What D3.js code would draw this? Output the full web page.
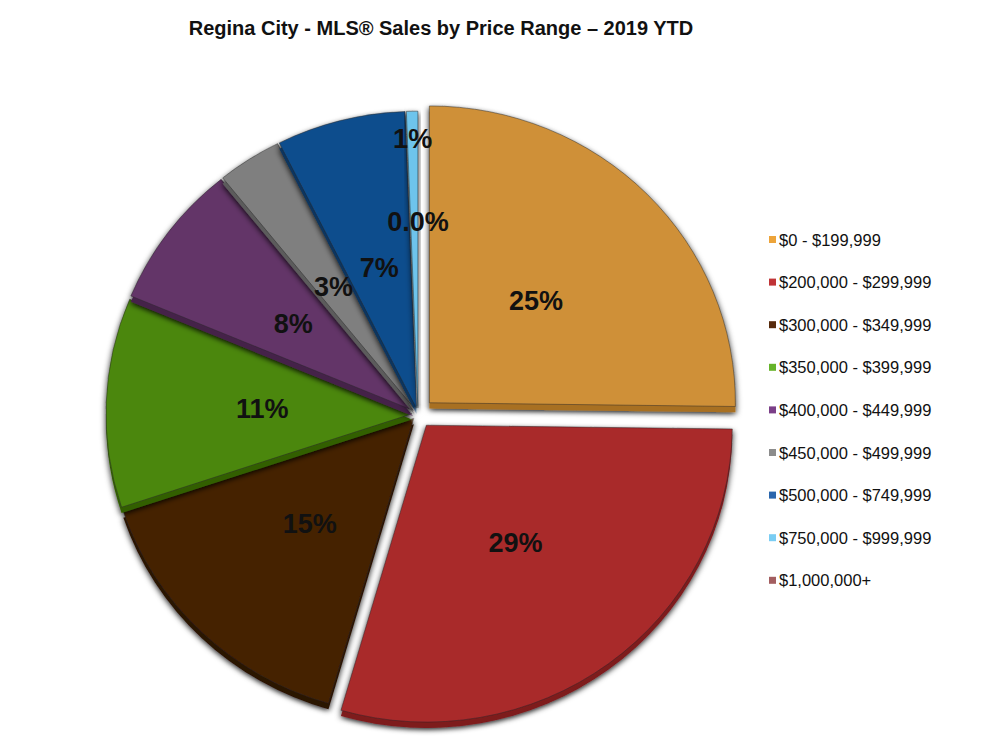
<!DOCTYPE html>
<html>
<head>
<meta charset="utf-8">
<script src="https://cdnjs.cloudflare.com/ajax/libs/d3/7.8.5/d3.min.js"></script>
<style>
  html, body { margin: 0; padding: 0; background: #fff; }
  svg { display: block; }
</style>
</head>
<body>
<script>
// ---- data ----
const categories = ["$0 - $199,999", "$200,000 - $299,999", "$300,000 - $349,999", "$350,000 - $399,999",
  "$400,000 - $449,999", "$450,000 - $499,999", "$500,000 - $749,999", "$750,000 - $999,999", "$1,000,000+"];
const values = [25.2, 29.3, 15.4, 11.4, 7.9, 3.4, 6.8, 0.6, 0.0];
const labels = ["25%", "29%", "15%", "11%", "8%", "3%", "7%", "1%", "0.0%"];
const faceColors = ["#CF9038", "#A9292C", "#452003", "#4B870B", "#633468", "#7F7F7F", "#104E8D", "#6EC4EC", "#9E5B5B"];
const depthColors = ["#A86F22", "#7E1A1D", "#2A1200", "#335E05", "#45224A", "#5C5C5C", "#0A355F", "#4A9CC2", "#7A4040"];
const legendColors = ["#EDA43A", "#C03437", "#572A0B", "#66B42A", "#7B3F88", "#8C8C8C", "#2A66AD", "#7ACDF3", "#A35E60"];
const explode = [16, 14, 6, 6, 6, 6, 6, 6, 6];
const title = "Regina City - MLS\u00AE Sales by Price Range \u2013 2019 YTD";

// ---- layout ----
const W = 1004, H = 746;
const cx = 418, cy = 414, R = 306, yScale = 0.97, depth = 6;

const svg = d3.select("body").append("svg").attr("width", W).attr("height", H);
const defs = svg.append("defs");
const f = defs.append("filter").attr("id", "shadow").attr("x", "-20%").attr("y", "-20%").attr("width", "140%").attr("height", "140%");
f.append("feDropShadow").attr("dx", 0).attr("dy", 2).attr("stdDeviation", 3)
  .attr("flood-color", "#000").attr("flood-opacity", 0.85);
const g0 = defs.append("radialGradient").attr("id", "glow");
g0.append("stop").attr("offset", "0%").attr("stop-color", "#fff").attr("stop-opacity", 1);
g0.append("stop").attr("offset", "100%").attr("stop-color", "#fff").attr("stop-opacity", 0);

svg.append("text").attr("x", 441).attr("y", 35).attr("text-anchor", "middle")
  .attr("font-family", "Liberation Sans, Arial, sans-serif").attr("font-weight", "bold")
  .attr("font-size", 20).attr("fill", "#111").text(title);

const pie = d3.pie().sort(null).value(d => d)(values);
const arc = d3.arc().innerRadius(0).outerRadius(R);

function offset(d, i) {
  const a = (d.startAngle + d.endAngle) / 2;
  return [Math.sin(a) * explode[i], -Math.cos(a) * explode[i]];
}

const pieG = svg.append("g");
const order = [2, 3, 4, 5, 6, 7, 8, 1, 0];
order.forEach(i => {
  const d = pie[i];
  if (d.endAngle - d.startAngle <= 0) return;
  const [dx, dy] = offset(d, i);
  const sg = pieG.append("g")
    .attr("transform", `translate(${cx + dx},${cy + dy}) scale(1,${yScale})`)
    .attr("filter", "url(#shadow)");
  sg.append("path").attr("d", arc(d)).attr("transform", `translate(0,${depth})`)
    .attr("fill", depthColors[i]);
  sg.append("path").attr("d", arc(d)).attr("fill", faceColors[i])
    .attr("stroke", "rgba(40,40,40,0.6)").attr("stroke-width", 0.8);
});

svg.append("circle").attr("cx", 420).attr("cy", 416).attr("r", 11).attr("fill", "url(#glow)");

// labels
pie.forEach((d, i) => {
  const [dx, dy] = offset(d, i);
  const a = (d.startAngle + d.endAngle) / 2;
  let lr = 0.49 * R;
  if (values[i] === 0) lr = 0.63 * R;
  else if (values[i] < 1) lr = 0.91 * R;
  const x = cx + dx + Math.sin(a) * lr;
  const y = cy + dy + (-Math.cos(a) * lr) * yScale;
  svg.append("text").attr("x", x).attr("y", y).attr("dy", "0.36em")
    .attr("text-anchor", "middle")
    .attr("font-family", "Liberation Sans, Arial, sans-serif").attr("font-weight", "bold")
    .attr("font-size", 27).attr("fill", "#111").text(labels[i]);
});

// legend
const lg = svg.append("g");
categories.forEach((c, i) => {
  const y = 240 + i * 42.6;
  lg.append("rect").attr("x", 769).attr("y", y - 4).attr("width", 7).attr("height", 7).attr("fill", legendColors[i]);
  lg.append("text").attr("x", 779).attr("y", y + 5.5)
    .attr("font-family", "Liberation Sans, Arial, sans-serif").attr("font-size", 16.5)
    .attr("fill", "#111").text(c);
});
</script>
</body>
</html>
